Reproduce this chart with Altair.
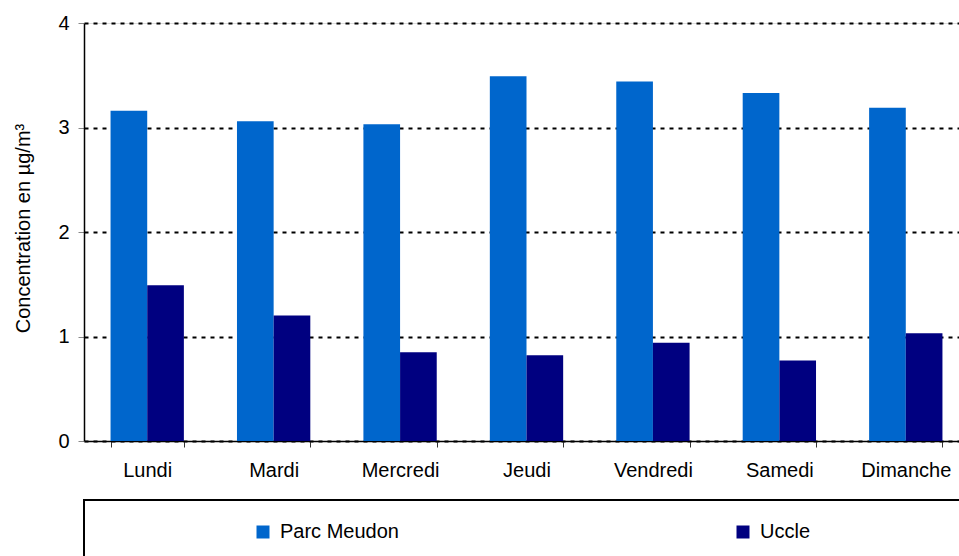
import altair as alt
import pandas as pd

days = ["Lundi", "Mardi", "Mercredi", "Jeudi", "Vendredi", "Samedi", "Dimanche"]
series = ["Parc Meudon", "Uccle"]
parc_meudon = [3.16, 3.06, 3.03, 3.49, 3.44, 3.33, 3.19]
uccle = [1.49, 1.20, 0.85, 0.82, 0.94, 0.77, 1.03]
colors = ["#0066CC", "#000080"]

rows = []
for i, d in enumerate(days):
    rows.append({"jour": d, "serie": series[0], "val": parc_meudon[i]})
    rows.append({"jour": d, "serie": series[1], "val": uccle[i]})
df = pd.DataFrame(rows)

FONT = "Liberation Sans"
FS = 20

bars = alt.Chart(df).mark_bar().encode(
    x=alt.X("jour:N", sort=days,
            scale=alt.Scale(range=[0, 885], paddingInner=0.42, paddingOuter=0.21),
            axis=alt.Axis(title=None, labelAngle=0, tickBand="extent", tickSize=6,
                          tickColor="#333333", domainColor="black", domainWidth=1.5,
                          labelPadding=13, labelFontSize=FS, labelColor="black",
                          labelFont=FONT, grid=False)),
    xOffset=alt.XOffset("serie:N", sort=series, scale=alt.Scale(paddingInner=0, paddingOuter=0)),
    y=alt.Y("val:Q", scale=alt.Scale(domain=[0, 4], nice=False),
            axis=alt.Axis(title="Concentration en µg/m³", values=[0, 1, 2, 3, 4],
                          format="d", tickSize=6, tickColor="#888888",
                          domainColor="black", domainWidth=1.5,
                          labelPadding=9, labelFontSize=FS, labelColor="black",
                          labelFont=FONT, titleFont=FONT, titleFontSize=FS,
                          titleFontWeight="normal", titleColor="black",
                          titleX=-51, titleY=205,
                          grid=True, gridColor="black", gridDash=[4, 5], gridWidth=2)),
    color=alt.Color("serie:N", sort=series,
                    scale=alt.Scale(domain=series, range=colors),
                    legend=alt.Legend(title=None, orient="none", legendX=169, legendY=499,
                                      direction="horizontal", symbolType="square",
                                      symbolSize=169, symbolStrokeWidth=0,
                                      labelFontSize=FS, labelFont=FONT, labelColor="black",
                                      labelOffset=7, columnPadding=334, padding=0,
                                      labelLimit=400)),
)

box = alt.Chart(alt.Data(values=[{"a": 1}])).mark_rect(
    fill="transparent", stroke="black", strokeWidth=2
).encode(
    x=alt.value(0), x2=alt.value(1000), y=alt.value(477), y2=alt.value(700)
)

chart = alt.layer(box, bars).properties(
    width=875, height=418,
    autosize=alt.AutoSizeParams(type="none"),
    padding={"left": 84, "top": 23, "right": 0, "bottom": 115},
).configure_view(stroke=None).configure(font=FONT)

chart.save("out.html", embed_options={"renderer": "svg", "actions": False})
